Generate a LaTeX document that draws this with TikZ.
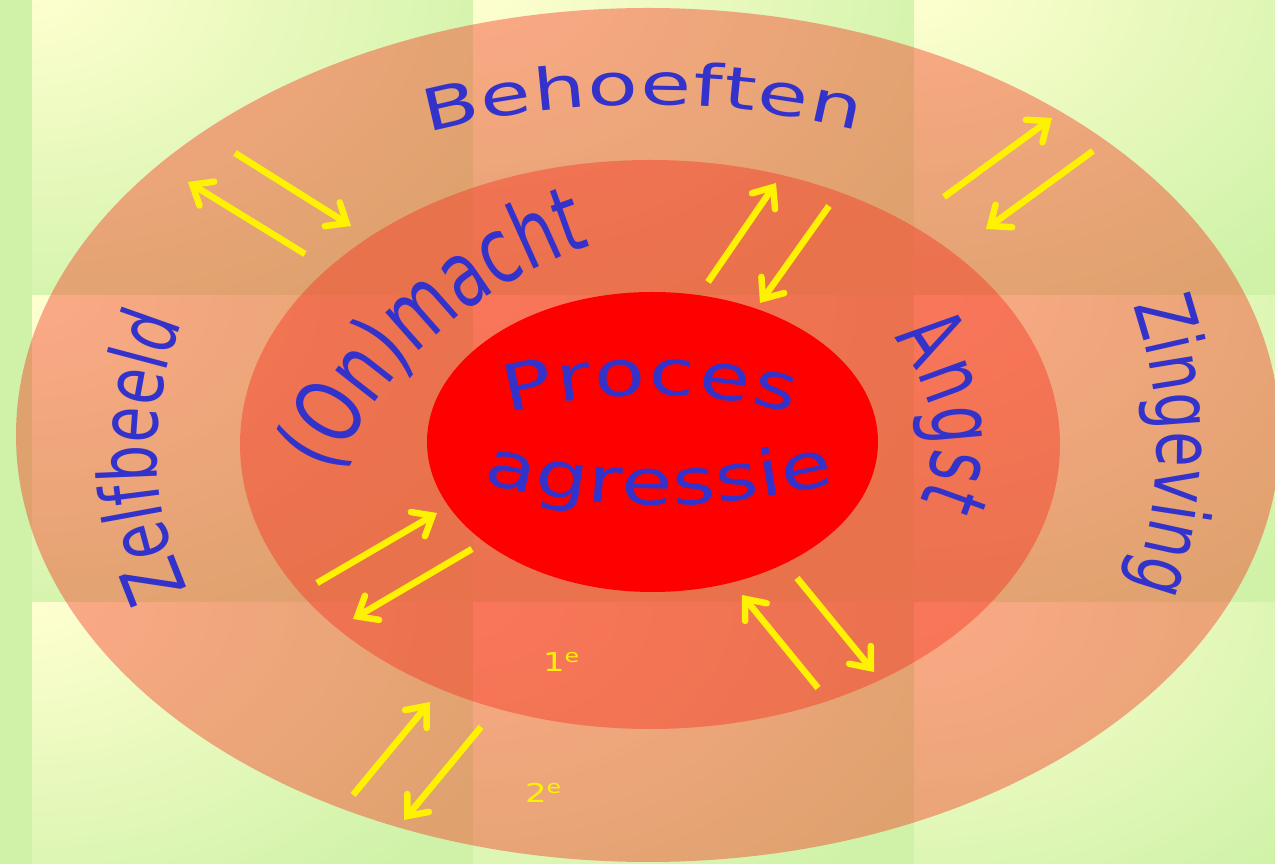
\documentclass[tikz,border=0pt]{standalone}
\usepackage{fontspec}
\setmainfont{DejaVu Sans}
\newfontfamily\fBeh[FakeStretch=1.42]{DejaVu Sans}
\newfontfamily\fNarrow[FakeStretch=0.72]{DejaVu Sans}
\newfontfamily\fAngst[FakeStretch=0.66]{DejaVu Sans}
\newfontfamily\fWide[FakeStretch=1.3]{DejaVu Sans}
\usetikzlibrary{decorations.text,arrows.meta,calc}
\definecolor{bgG}{RGB}{207,242,168}
\definecolor{bgY}{RGB}{255,255,208}
\definecolor{ring}{RGB}{247,42,25}
\definecolor{txt}{RGB}{51,51,204}
\tikzset{
  ringfill/.style={fill=ring, fill opacity=0.4},
  yarrow/.style={draw=yellow, line width=6.5pt, line cap=butt,
    -{Straight Barb[length=17pt,width=28pt,line cap=round]}},
  curvedtext/.style={decorate, decoration={text along path,
    text align={fit to path}, text color=txt, text={#1}}},
  smalllabel/.style={anchor=base west, text=yellow, inner sep=0pt,
    font=\fWide\fontsize{26}{26}\selectfont},
}
\begin{document}
\begin{tikzpicture}[x=1pt,y=1pt]
\useasboundingbox (0,0) rectangle (1275,864);
\clip (0,0) rectangle (1275,864);
% background
\fill[bgG] (0,0) rectangle (1275,864);
\foreach \cx in {32,473,914} {
  \foreach \cy in {875,568,261} {
    \begin{scope}
      \clip (\cx,\cy) rectangle ++(441,-307);
      \fill[bgG] (\cx,\cy) rectangle ++(441,-307);
      \shade[inner color=bgY, outer color=bgG] (\cx,\cy) ellipse[x radius=520pt, y radius=360pt];
    \end{scope}
  }
}
% rings
\fill[ringfill] (648,429) ellipse[x radius=632pt, y radius=427pt];
\fill[ringfill] (650,419.5) ellipse[x radius=410pt, y radius=284.5pt];
\fill[red] (652.5,422) ellipse[x radius=225.5pt, y radius=150pt];
% curved labels
\path[curvedtext={|\fBeh\fontsize{58}{58}\selectfont|Behoeften}]
  ($(648,429)+(113.9:544pt and 330pt)$) arc[start angle=113.9, end angle=67.3, x radius=544pt, y radius=330pt];
\path[curvedtext={|\fNarrow\fontsize{81}{81}\selectfont|Zelfbeeld}]
  ($(487,414)+(205:330pt)$) arc[start angle=205, end angle=159.5, radius=330pt];
\path[curvedtext={|\fNarrow\fontsize{80}{80}\selectfont|Zingeving}]
  ($(737,420)+(19.3:420pt)$) arc[start angle=19.3, end angle=-19.5, radius=420pt];
\path[curvedtext={|\fAngst\fontsize{90}{90}\selectfont|Angst}]
  ($(650,424)+(30.5:283pt and 200pt)$) arc[start angle=30.5, end angle=-17.5, x radius=283pt, y radius=200pt];
\path[curvedtext={|\fNarrow\fontsize{92}{92}\selectfont|(On)macht}]
  ($(726,206)+(155:434pt)$) arc[start angle=155, end angle=108.4, radius=434pt];
\path[curvedtext={|\fWide\fontsize{64}{64}\selectfont|Proces}]
  ($(650,-104)+(104.4:573pt)$) arc[start angle=104.4, end angle=75.6, radius=573pt];
\path[curvedtext={|\fWide\fontsize{64}{64}\selectfont|agressie}]
  ($(659,1074)+(255.7:715pt)$) arc[start angle=255.7, end angle=284.3, radius=715pt];
% small labels
\node[smalllabel] (first) at (543,192) {1\textsuperscript{e}};
\node[smalllabel] (second) at (525,61) {2\textsuperscript{e}};
% arrow end points
\coordinate (a1s) at (305,610); \coordinate (a1e) at (188,682);
\coordinate (a2s) at (235,711); \coordinate (a2e) at (351,638);
\coordinate (a3s) at (708,582); \coordinate (a3e) at (776,681);
\coordinate (a4s) at (829,658); \coordinate (a4e) at (760,561);
\coordinate (a5s) at (944,667); \coordinate (a5e) at (1052,746);
\coordinate (a6s) at (1093,713); \coordinate (a6e) at (986,635);
\coordinate (a7s) at (317,281); \coordinate (a7e) at (437,351);
\coordinate (a8s) at (472,315); \coordinate (a8e) at (353,245);
\coordinate (a9s) at (353,69); \coordinate (a9e) at (430,162);
\coordinate (a10s) at (481,137); \coordinate (a10e) at (404,44);
\coordinate (a11s) at (818,176); \coordinate (a11e) at (742,269);
\coordinate (a12s) at (797,286); \coordinate (a12e) at (874,192);
\foreach \i in {1,...,12} { \draw[yarrow] (a\i s) -- (a\i e); }
\end{tikzpicture}
\end{document}
